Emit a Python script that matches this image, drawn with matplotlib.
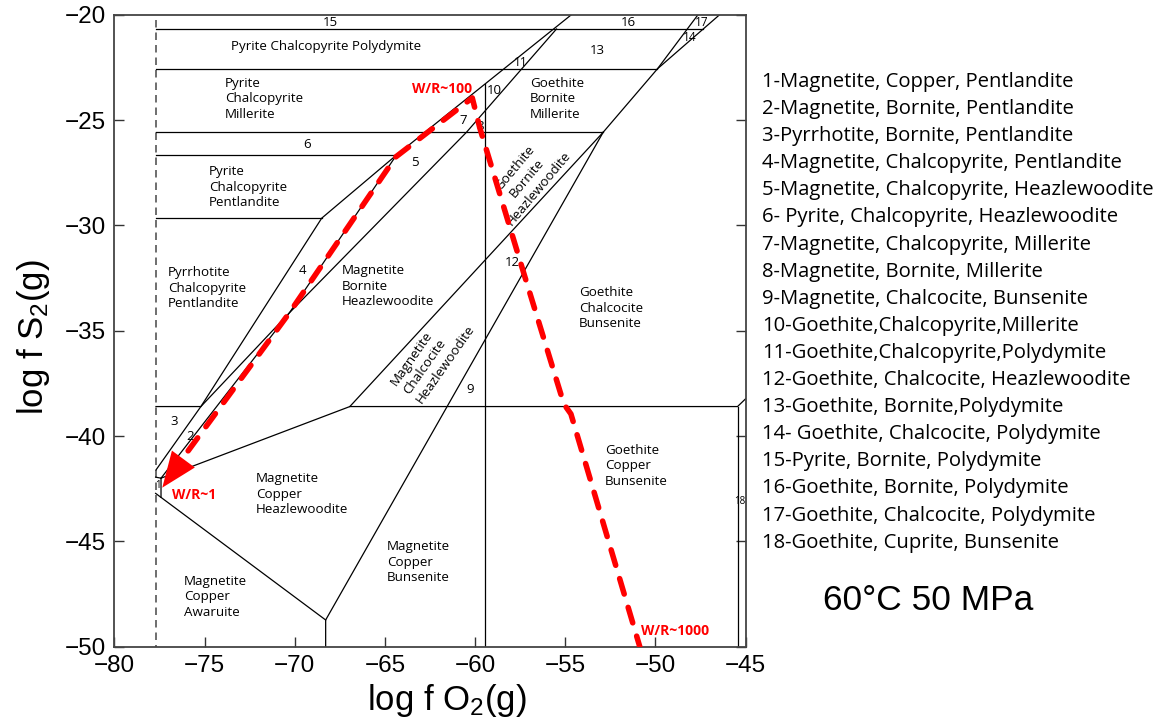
import matplotlib.pyplot as plt

plt.rcParams['font.family'] = ['Liberation Sans', 'DejaVu Sans']
plt.rcParams['mathtext.default'] = 'regular'

# ---- phase boundaries (log fO2, log fS2) ----
fix_x = [-77.7, -77.7]
fix_y = [-20.25, -50.0]

h1_x = [-77.7, -47.35]
h1_y = [-20.68, -20.68]
h2_x = [-77.7, -49.89]
h2_y = [-22.59, -22.59]
h3_x = [-77.7, -52.90]
h3_y = [-25.58, -25.58]
h4_x = [-77.7, -64.36]
h4_y = [-26.66, -26.66]
h5_x = [-77.7, -68.51]
h5_y = [-29.66, -29.66]

cpy_bn_x = [-55.49, -60.48, -70.3, -75.21, -77.7]
cpy_bn_y = [-20.68, -25.58, -34.15, -38.60, -38.60]

py_mt_x = [-54.66, -64.36, -68.51, -75.21, -77.7]
py_mt_y = [-20.0, -26.66, -29.66, -38.60, -41.61]

pn_hz_x = [-64.36, -70.3, -77.42]
pn_hz_y = [-26.66, -34.15, -42.0]

mt_gt_x = [-59.48, -59.48]
mt_gt_y = [-23.31, -50.0]

bn_cc_x = [-52.90, -66.95, -77.42]
bn_cc_y = [-25.58, -38.60, -42.0]

hz_bs_x = [-52.90, -68.29, -68.29]
hz_bs_y = [-25.58, -48.73, -50.0]

cc_cu_x = [-66.95, -45.45, -45.0]
cc_cu_y = [-38.60, -38.60, -38.23]

cu_cup_x = [-45.45, -45.45]
cu_cup_y = [-38.60, -50.0]

bn_cc_top_x = [-52.90, -49.89, -47.64]
bn_cc_top_y = [-25.58, -22.57, -20.0]

pd_top_x = [-49.89, -46.44]
pd_top_y = [-22.57, -20.0]

awr_x = [-77.72, -68.29]
awr_y = [-42.72, -48.73]

tiny_x = [-77.72, -77.42, -77.42]
tiny_y = [-41.95, -42.0, -42.91]

# ---- water/rock path ----
wr_x = [-76.9, -70.3, -64.4, -60.16, -59.74, -57.24, -55.08, -54.69, -50.87]
wr_y = [-41.85, -34.15, -26.75, -23.95, -25.38, -32.45, -38.48, -38.95, -50.0]
wr_tip = (-77.35, -42.45)
wr_tail = (-76.1, -41.0)

# ---- field labels ----
field_text = ['Pyrite Chalcopyrite Polydymite',
              'Pyrite\nChalcopyrite\nMillerite',
              'Goethite\nBornite\nMillerite',
              'Pyrite\nChalcopyrite\nPentlandite',
              'Pyrrhotite\nChalcopyrite\nPentlandite',
              'Magnetite\nBornite\nHeazlewoodite',
              'Goethite\nChalcocite\nBunsenite',
              'Goethite\nCopper\nBunsenite',
              'Magnetite\nCopper\nHeazlewoodite',
              'Magnetite\nCopper\nBunsenite',
              'Magnetite\nCopper\nAwaruite']
field_x = [-68.28, -73.87, -56.97, -74.76, -77.03, -67.41, -54.25, -52.81, -72.17, -64.88, -76.16]
field_y = [-21.49, -24.0, -24.0, -28.18, -32.98, -32.88, -33.93, -41.4, -42.76, -46.0, -47.62]

num_text = ['15', '16', '17', '14', '13', '11', '10', '7', '8', '6', '5', '4', '12', '9', '3', '2', '1', '18']
num_x = [-68.05, -51.53, -47.43, -48.1, -53.25, -57.46, -58.96, -60.68, -59.74, -69.33, -63.34,
         -69.55, -57.91, -60.3, -76.69, -75.81, -77.6, -45.33]
num_y = [-20.35, -20.35, -20.35, -21.06, -21.68, -22.25, -23.58, -25.0, -25.33, -26.14, -27.04,
         -32.12, -31.74, -37.81, -39.33, -40.0, -42.35, -43.12]
num_size = [9.5, 9.5, 8.5, 8.5, 9.5, 8.5, 9.5, 9.5, 9.5, 9.5, 9.5, 9.5, 9.5, 9.5, 9.5, 9.5, 7, 7]

legend_items = ['1-Magnetite, Copper, Pentlandite',
                '2-Magnetite, Bornite, Pentlandite',
                '3-Pyrrhotite, Bornite, Pentlandite',
                '4-Magnetite, Chalcopyrite, Pentlandite',
                '5-Magnetite, Chalcopyrite, Heazlewoodite',
                '6- Pyrite, Chalcopyrite, Heazlewoodite',
                '7-Magnetite, Chalcopyrite, Millerite',
                '8-Magnetite, Bornite, Millerite',
                '9-Magnetite, Chalcocite, Bunsenite',
                '10-Goethite,Chalcopyrite,Millerite',
                '11-Goethite,Chalcopyrite,Polydymite',
                '12-Goethite, Chalcocite, Heazlewoodite',
                '13-Goethite, Bornite,Polydymite',
                '14- Goethite, Chalcocite, Polydymite',
                '15-Pyrite, Bornite, Polydymite',
                '16-Goethite, Bornite, Polydymite',
                '17-Goethite, Chalcocite, Polydymite',
                '18-Goethite, Cuprite, Bunsenite']

fig = plt.figure(figsize=(11.6, 7.19), dpi=100)
ax = fig.add_axes([0.0987, 0.1005, 0.5441, 0.8791])
ax.set_xlim(-80, -45)
ax.set_ylim(-50, -20)

lab_font = ['Open Sans', 'DejaVu Sans']
lw = 0.9
fs = 9.6

ax.plot(fix_x, fix_y, color='#555555', lw=1.2, linestyle=(0, (4.5, 3)))
for xs, ys in [(h1_x, h1_y), (h2_x, h2_y), (h3_x, h3_y), (h4_x, h4_y), (h5_x, h5_y),
               (cpy_bn_x, cpy_bn_y), (py_mt_x, py_mt_y), (pn_hz_x, pn_hz_y),
               (mt_gt_x, mt_gt_y), (bn_cc_x, bn_cc_y), (hz_bs_x, hz_bs_y),
               (cc_cu_x, cc_cu_y), (cu_cup_x, cu_cup_y), (bn_cc_top_x, bn_cc_top_y),
               (pd_top_x, pd_top_y), (awr_x, awr_y), (tiny_x, tiny_y)]:
    ax.plot(xs, ys, color='black', lw=lw, solid_joinstyle='miter')

# water/rock path
ax.plot(wr_x, wr_y, color='#ff0000', lw=4, linestyle=(0, (2.9, 2.5)),
        dash_capstyle='round', clip_on=True, zorder=5)
ax.annotate('', xy=wr_tip, xytext=wr_tail,
            arrowprops=dict(arrowstyle='-|>,head_length=0.8,head_width=0.32',
                            mutation_scale=32, color='#ff0000', lw=0,
                            shrinkA=0, shrinkB=0), zorder=6)

ax.text(-61.85, -23.53, 'W/R~100', color='#ff0000', fontsize=10, fontweight='bold',
        ha='center', va='center', family=lab_font)
ax.text(-76.81, -42.79, 'W/R~1', color='#ff0000', fontsize=10, fontweight='bold',
        ha='left', va='center', family=lab_font)
ax.text(-50.78, -49.25, 'W/R~1000', color='#ff0000', fontsize=10, fontweight='bold',
        ha='left', va='center', family=lab_font)

for i, t in enumerate(field_text):
    ha = 'center' if i == 0 else 'left'
    ax.text(field_x[i], field_y[i], t, fontsize=fs, ha=ha, va='center',
            linespacing=1.25, family=lab_font)

ax.text(-57.13, -27.76, 'Goethite\nBornite\nHeazlewoodite', fontsize=fs, rotation=50,
        ha='center', va='center', multialignment='center', linespacing=1.25,
        rotation_mode='anchor', family=lab_font)
ax.text(-62.34, -36.15, 'Magnetite\nChalcocite\nHeazlewoodite', fontsize=fs, rotation=55,
        ha='center', va='center', multialignment='left', linespacing=1.25,
        rotation_mode='anchor', family=lab_font)

for t, x, y, s in zip(num_text, num_x, num_y, num_size):
    ax.text(x, y, t, fontsize=s, ha='center', va='center', family=lab_font)

ax.set_xticks([-80, -75, -70, -65, -60, -55, -50, -45])
ax.set_yticks([-50, -45, -40, -35, -30, -25, -20])
ax.tick_params(direction='in', length=7, width=1, right=True, top=False,
               labelsize=17.5, pad=6, color='#333333')
for sp in ax.spines.values():
    sp.set_color('#444444')
    sp.set_linewidth(1.3)

ax.set_xlabel('log f O$_2$(g)', fontsize=25)
ax.xaxis.set_label_coords(0.527, -0.0995)
ax.xaxis.label.set_va('baseline')
ax.set_ylabel('log f S$_2$(g)', fontsize=25)
ax.yaxis.set_label_coords(-0.128, 0.49)
ax.yaxis.label.set_va('center')

for i, t in enumerate(legend_items):
    fig.text(762 / 1160, 1 - (82 + i * 27.1) / 719, t, fontsize=14.6, ha='left', va='center',
             family=lab_font)

fig.text(928 / 1160, 1 - 600 / 719, '60°C 50 MPa', fontsize=25.5, ha='center', va='center')

fig.savefig('out.png', dpi=100, facecolor='white')
